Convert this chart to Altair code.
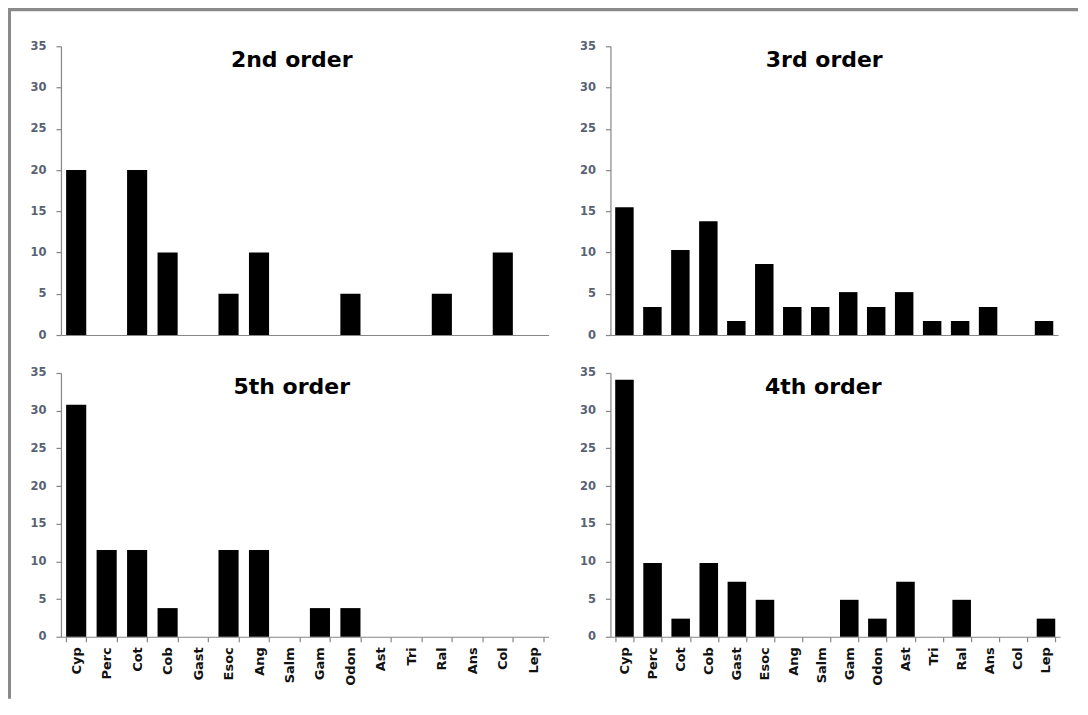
import altair as alt
import pandas as pd

categories = ["Cyp", "Perc", "Cot", "Cob", "Gast", "Esoc", "Ang", "Salm",
              "Gam", "Odon", "Ast", "Tri", "Ral", "Ans", "Col", "Lep"]
order2 = [20, 0, 20, 10, 0, 5, 10, 0, 0, 5, 0, 0, 5, 0, 10, 0]
order3 = [15.5, 3.4, 10.3, 13.8, 1.7, 8.6, 3.4, 3.4, 5.2, 3.4, 5.2, 1.7, 1.7, 3.4, 0, 1.7]
order5 = [30.8, 11.5, 11.5, 3.8, 0, 11.5, 11.5, 0, 3.8, 3.8, 0, 0, 0, 0, 0, 0]
order4 = [34.1, 9.8, 2.4, 9.8, 7.3, 4.9, 0, 0, 4.9, 2.4, 7.3, 0, 4.9, 0, 0, 2.4]
panel_titles = ["2nd order", "3rd order", "5th order", "4th order"]
y_ticks = [0, 5, 10, 15, 20, 25, 30, 35]

GRAY = "#868686"


def panel(values, title, width, height, show_labels, title_dx, with_frame=False):
    df = pd.DataFrame({"cat": categories, "val": values})
    if show_labels:
        xaxis = alt.Axis(title=None, labelAngle=270, tickBand="extent", tickSize=5,
                         tickColor=GRAY, tickWidth=1.2, domainColor=GRAY, domainWidth=1.2,
                         labelPadding=5, labelFont="DejaVu Sans", labelFontWeight="bold",
                         labelFontSize=13, labelColor="#111111", labelOverlap=False)
    else:
        xaxis = alt.Axis(title=None, labels=False, ticks=False,
                         domainColor=GRAY, domainWidth=1.2)
    yaxis = alt.Axis(title=None, values=y_ticks, tickSize=5, tickColor=GRAY, tickWidth=1.2,
                     domainColor=GRAY, domainWidth=1.2, grid=False,
                     labelColor="#596273", labelFont="DejaVu Sans", labelFontWeight="bold",
                     labelFontSize=11.5, labelPadding=10)
    bars = alt.Chart(df).mark_bar(color="black").encode(
        x=alt.X("cat:N", sort=categories,
                scale=alt.Scale(paddingInner=0.34, paddingOuter=0.17), axis=xaxis),
        y=alt.Y("val:Q", scale=alt.Scale(domain=[0, 35], nice=False, zero=True), axis=yaxis),
    )
    heading = alt.Chart(alt.Data(values=[{"t": title}])).mark_text(
        font="DejaVu Sans", fontSize=22, fontWeight="bold", color="black",
        align="center", baseline="alphabetic",
    ).encode(x=alt.value(width / 2 + title_dx), y=alt.value(21), text="t:N")
    layers = [bars, heading]
    if with_frame:
        frame = alt.Chart(alt.Data(values=[{}])).mark_rule(
            color="#8a8a8a", strokeWidth=4, strokeCap="butt")
        layers.append(frame.encode(x=alt.value(-54), x2=alt.value(1018), y=alt.value(-37)))
        layers.append(frame.encode(x=alt.value(-52), y=alt.value(-39), y2=alt.value(653)))
    return alt.layer(*layers).properties(width=width, height=height)


tl = panel(order2, panel_titles[0], 488, 289, False, -13, with_frame=True)
tr = panel(order3, panel_titles[1], 448, 289, False, -10)
bl = panel(order5, panel_titles[2], 488, 264, True, -13)
br = panel(order4, panel_titles[3], 450, 264, True, -12)

chart = alt.concat(
    tl, tr, bl, br, columns=2, bounds="flush",
    spacing={"row": 38, "column": 62},
).properties(
    padding={"left": -3, "top": -3, "right": 0, "bottom": 0}, background="white"
).configure_view(strokeWidth=0)

chart.save("out.html", embed_options={"renderer": "svg", "actions": False})
